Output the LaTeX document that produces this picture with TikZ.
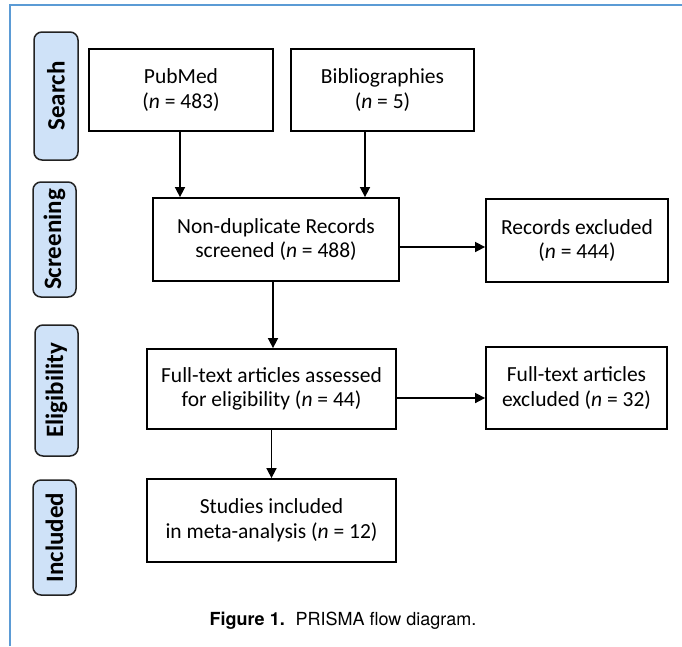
\documentclass[tikz,border=0pt]{standalone}
\usepackage{fontspec}
\setmainfont{Carlito}
\newfontfamily\capfont{TeX Gyre Heros}
\usetikzlibrary{arrows.meta}
\definecolor{frameblue}{HTML}{5B9BD5}
\definecolor{labelfill}{HTML}{CFE2F8}
\definecolor{labeldraw}{HTML}{222222}
\tikzset{
  flowbox/.style={draw=black, line width=1.8pt, fill=white, align=center,
    inner sep=0pt, font=\fontsize{21.5}{24.5}\selectfont},
  stagebox/.style={draw=labeldraw, line width=1.5pt, fill=labelfill, rounded corners=8pt,
    inner sep=0pt, font=\fontsize{25}{28}\selectfont\bfseries},
  arr/.style={line width=1.6pt, -{Triangle[length=10pt,width=10pt]}},
  frameline/.style={draw=frameblue, line width=2.5pt}
}
\begin{document}
\begin{tikzpicture}[x=1pt,y=-1pt]
\useasboundingbox (0,0) rectangle (682,646);
\fill[white] (0,0) rectangle (682,646);
\draw[frameline] (10,646) -- (10,5) -- (682,5);

% stage labels
\node[stagebox, minimum width=44pt, minimum height=128pt] (search) at (56,96) {\rotatebox{90}{Search}};
\node[stagebox, minimum width=43pt, minimum height=115pt] (screen) at (54.5,239.5) {\rotatebox{90}{Screening}};
\node[stagebox, minimum width=43pt, minimum height=131pt] (elig) at (56.5,390.5) {\rotatebox{90}{Eligibility}};
\node[stagebox, minimum width=43pt, minimum height=115pt] (incl) at (54.5,537.5) {\rotatebox{90}{Included}};

% flow boxes
\node[flowbox, minimum width=184pt, minimum height=82pt] (pub) at (181,90) {PubMed\\(\textit{n} = 483)};
\node[flowbox, minimum width=183pt, minimum height=82pt] (bib) at (382.5,90) {Bibliographies\\(\textit{n} = 5)};
\node[flowbox, minimum width=246pt, minimum height=83pt] (nd) at (276,239.5) {Non-duplicate Records\\screened (\textit{n} = 488)};
\node[flowbox, minimum width=182pt, minimum height=83pt] (rec) at (577,240.5) {Records excluded\\(\textit{n} = 444)};
\node[flowbox, minimum width=249pt, minimum height=80pt] (ass) at (271.5,389) {Full-text articles assessed\\for eligibility (\textit{n} = 44)};
\node[flowbox, minimum width=181pt, minimum height=82pt] (fte) at (576.5,388) {Full-text articles\\excluded (\textit{n} = 32)};
\node[flowbox, minimum width=249pt, minimum height=83pt] (stud) at (271.5,520.5) {Studies included\\in meta-analysis (\textit{n} = 12)};

% connectors
\draw[arr] ([xshift=-1pt]pub.south) -- ([xshift=-1pt]pub.south |- nd.north);
\draw[arr] ([xshift=-17.5pt]bib.south) -- ([xshift=-17.5pt]bib.south |- nd.north);
\draw[arr] ([yshift=-7.5pt]nd.east) -- ([yshift=-7.5pt]nd.east -| rec.west);
\draw[arr] ([xshift=-3pt]nd.south) -- ([xshift=-3pt]nd.south |- ass.north);
\draw[arr] ([yshift=-9pt]ass.east) -- ([yshift=-9pt]ass.east -| fte.west);
\draw[arr] (ass.south) -- (stud.north);

% caption
\node[anchor=base, font=\capfont\fontsize{18}{21}\selectfont] (cap) at (343,625) {\textbf{Figure 1.}\hspace{0.6em}PRISMA flow diagram.};
\end{tikzpicture}
\end{document}
